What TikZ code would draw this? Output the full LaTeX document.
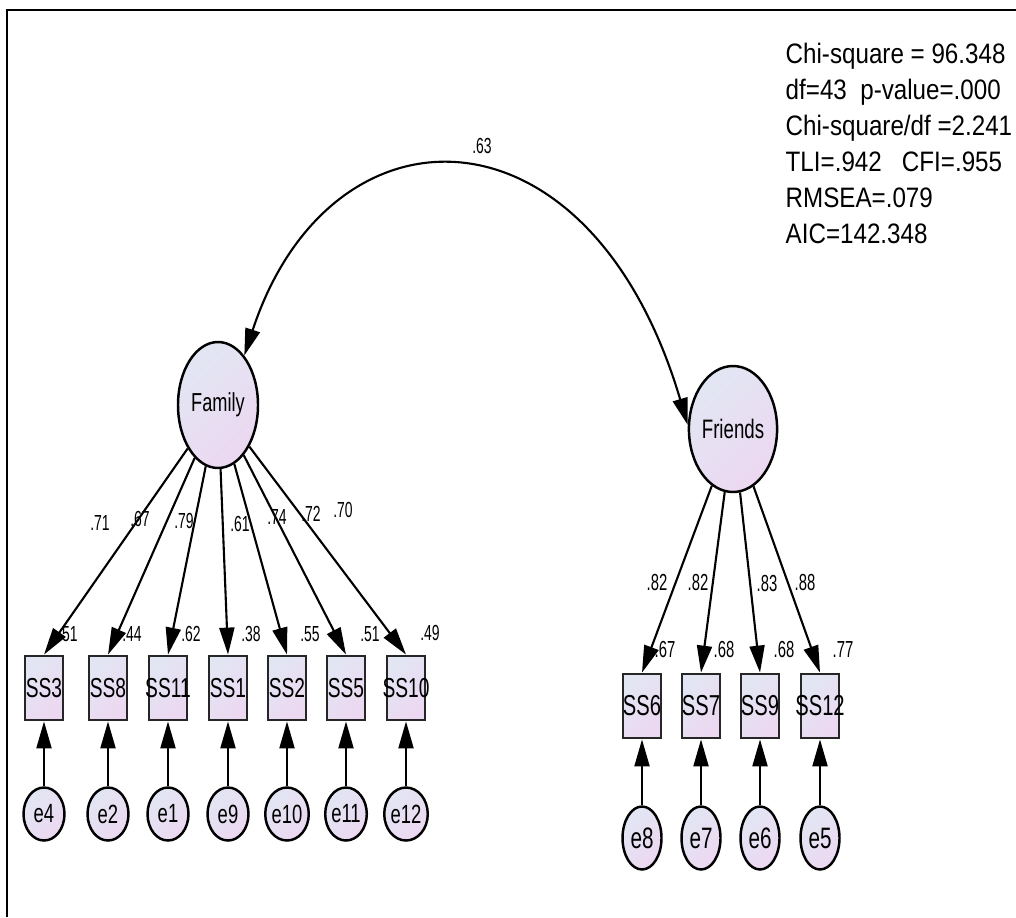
\documentclass[tikz,border=0pt]{standalone}
\usepackage{fontspec}
\setmainfont{Liberation Sans}[FakeStretch=0.86]
\newfontfamily\varsf{Liberation Sans}[FakeStretch=0.7]
\newfontfamily\coefsf{Liberation Sans}[FakeStretch=0.64]
\usetikzlibrary{arrows.meta,calc,shapes.geometric}
\definecolor{semtop}{RGB}{226,230,243}
\definecolor{sembot}{RGB}{236,216,241}
\tikzset{
  semfill/.style={top color=semtop, bottom color=sembot, shading angle=45},
  latent/.style={ellipse, draw, line width=0.7pt, semfill, inner sep=0pt,
    minimum width=8mm, minimum height=12.6mm, font=\varsf\fontsize{7.4}{8}\selectfont},
  obsbox/.style={rectangle, draw=black!85, line width=0.8pt, semfill, inner sep=0pt,
    minimum width=3.8mm, minimum height=6.4mm, font=\varsf\fontsize{7.8}{9}\selectfont},
  obsboxr/.style={obsbox, font=\varsf\fontsize{8.2}{9}\selectfont},
  errl/.style={ellipse, draw, line width=0.7pt, semfill, inner sep=0pt,
    minimum width=4.1mm, minimum height=5.3mm, font=\varsf\fontsize{7.5}{8}\selectfont},
  errr/.style={errl, minimum width=3.9mm, minimum height=6.3mm,
    font=\varsf\fontsize{8.4}{9}\selectfont},
  coef/.style={inner sep=0pt, font=\coefsf\fontsize{6.2}{7}\selectfont},
  coefr/.style={coef, font=\coefsf\fontsize{6.6}{7}\selectfont},
  loadarr/.style={line width=0.6pt, -{Triangle[length=2.7mm,width=1.5mm]}},
  covarr/.style={line width=0.6pt,
    {Triangle[length=2.7mm,width=1.5mm]}-{Triangle[length=2.7mm,width=1.5mm]}},
}

\begin{document}
\begin{tikzpicture}[x=0.1mm,y=-0.1mm]
  \useasboundingbox (0,0) rectangle (1016,917);
  \draw[line width=0.8pt] (7,917) -- (7,10) -- (1016,10);

  % factors
  \node[latent] (fam) at (218,405) {Family};
  \node[latent, font=\varsf\fontsize{7.6}{8}\selectfont] (fri) at (733,429) {Friends};
  \draw[covarr] (fam.62) .. controls (330,95) and (590,95) .. (fri.175);
  \node[coef] (cov) at (482,146) {.63};

  % Family indicators and their errors
  \node[obsbox] (ss3)  at (44,688)  {SS3};
  \node[obsbox] (ss8)  at (108,688) {SS8};
  \node[obsbox] (ss11) at (168,688) {\makebox[0pt]{SS11}};
  \node[obsbox] (ss1)  at (228,688) {SS1};
  \node[obsbox] (ss2)  at (287,688) {SS2};
  \node[obsbox] (ss5)  at (346,688) {SS5};
  \node[obsbox] (ss10) at (406,688) {\makebox[0pt]{SS10}};
  \node[errl] (e4)  at (44,814)  {e4};
  \node[errl] (e2)  at (108,814) {e2};
  \node[errl] (e1)  at (168,814) {e1};
  \node[errl] (e9)  at (228,814) {e9};
  \node[errl] (e10) at (287,814) {e10};
  \node[errl] (e11) at (346,814) {e11};
  \node[errl] (e12) at (406,814) {e12};

  % Friends indicators and their errors
  \node[obsboxr] (ss6)  at (642,706) {SS6};
  \node[obsboxr] (ss7)  at (701,706) {SS7};
  \node[obsboxr] (ss9)  at (760,706) {SS9};
  \node[obsboxr] (ss12) at (820,706) {\makebox[0pt]{SS12}};
  \node[errr] (e8) at (642,838) {e8};
  \node[errr] (e7) at (701,838) {e7};
  \node[errr] (e6) at (760,838) {e6};
  \node[errr] (e5) at (820,838) {e5};

  % loadings
  \draw[loadarr] (fam) -- (ss3.north);
  \draw[loadarr] (fam) -- (ss8.north);
  \draw[loadarr] (fam) -- (ss11.north);
  \draw[loadarr] (fam) -- (ss1.north);
  \draw[loadarr] (fam) -- (ss2.north);
  \draw[loadarr] (fam) -- (ss5.north);
  \draw[loadarr] (fam) -- (ss10.north);
  \draw[loadarr] (fri) -- (ss6.north);
  \draw[loadarr] (fri) -- (ss7.north);
  \draw[loadarr] (fri) -- (ss9.north);
  \draw[loadarr] (fri) -- (ss12.north);
  \node[coef] (l3)  at (100,523) {.71};
  \node[coef] (l8)  at (140,519) {.67};
  \node[coef] (l11) at (184,521) {.79};
  \node[coef] (l1)  at (240,524) {.61};
  \node[coef] (l2)  at (277,517) {.74};
  \node[coef] (l5)  at (311,514) {.72};
  \node[coef] (l10) at (343,510) {.70};
  \node[coefr] (l6)  at (657,583) {.82};
  \node[coefr] (l7)  at (698,583) {.82};
  \node[coefr] (l9)  at (767,584) {.83};
  \node[coefr] (l12) at (805,583) {.88};

  % error paths
  \foreach \e/\s in {e4/ss3,e2/ss8,e1/ss11,e9/ss1,e10/ss2,e11/ss5,e12/ss10,
                     e8/ss6,e7/ss7,e6/ss9,e5/ss12}
    \draw[loadarr] (\e) -- (\s);

  % squared multiple correlations
  \node[coef] (r3)  at ($(ss3.north)+(24,-21)$)  {.51};
  \node[coef] (r8)  at ($(ss8.north)+(24,-21)$)  {.44};
  \node[coef] (r11) at ($(ss11.north)+(23,-21)$) {.62};
  \node[coef] (r1)  at ($(ss1.north)+(23,-21)$)  {.38};
  \node[coef] (r2)  at ($(ss2.north)+(23,-21)$)  {.55};
  \node[coef] (r5)  at ($(ss5.north)+(24,-21)$)  {.51};
  \node[coef] (r10) at ($(ss10.north)+(24,-22)$) {.49};
  \node[coefr] (r6)  at ($(ss6.north)+(23,-23)$)  {.67};
  \node[coefr] (r7)  at ($(ss7.north)+(23,-23)$)  {.68};
  \node[coefr] (r9)  at ($(ss9.north)+(24,-23)$)  {.68};
  \node[coefr] (r12) at ($(ss12.north)+(23,-23)$) {.77};

  % fit indices
  \node[anchor=north west, inner sep=0pt, align=left,
    font=\fontsize{8}{10.25}\selectfont] (fit) at (785,42)
    {Chi-square = 96.348\\df=43\ \ p-value=.000\\Chi-square/df =2.241\\
     TLI=.942\ \ \ CFI=.955\\RMSEA=.079\\AIC=142.348};
\end{tikzpicture}
\end{document}
